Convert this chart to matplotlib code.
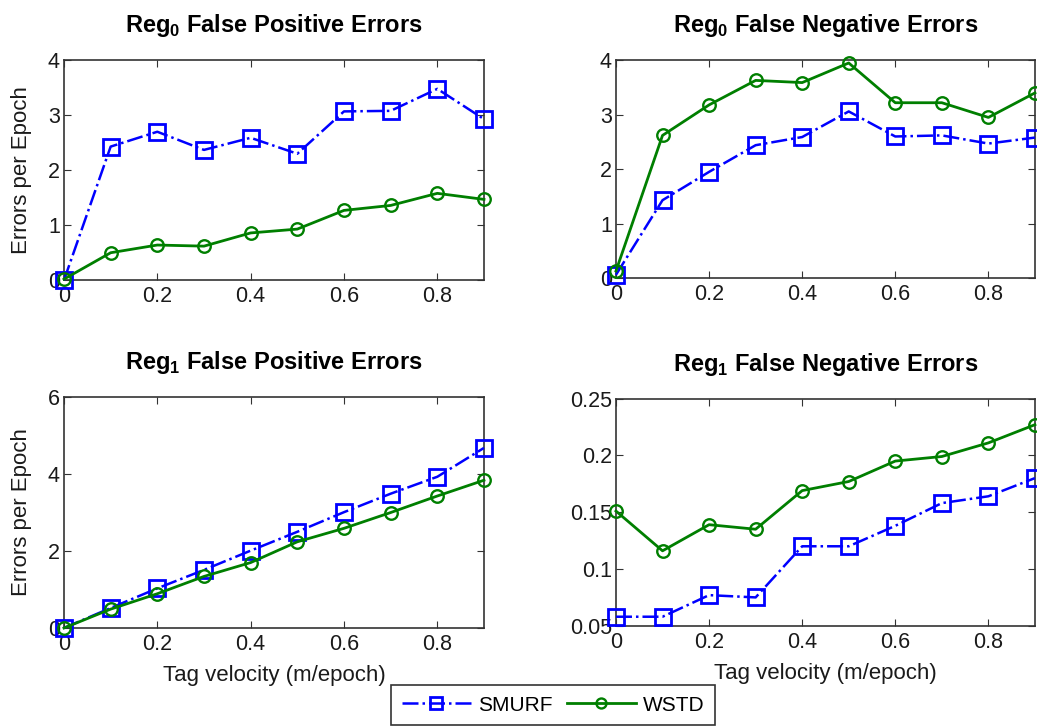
import numpy as np
import matplotlib
matplotlib.use('Agg')
import matplotlib.pyplot as plt

plt.rcParams['font.family'] = ['Liberation Sans', 'DejaVu Sans']
plt.rcParams['mathtext.fontset'] = 'custom'
plt.rcParams['mathtext.rm'] = 'Liberation Sans'
plt.rcParams['mathtext.bf'] = 'Liberation Sans:bold'

# tag velocity (m/epoch)
velocity = [0.0, 0.1, 0.2, 0.3, 0.4, 0.5, 0.6, 0.7, 0.8, 0.9]

# Reg0 false positive errors
reg0_fp_smurf = [0.0, 2.43, 2.70, 2.37, 2.59, 2.30, 3.07, 3.08, 3.48, 2.93]
reg0_fp_wstd = [0.02, 0.50, 0.64, 0.62, 0.86, 0.93, 1.27, 1.36, 1.58, 1.47]

# Reg0 false negative errors
reg0_fn_smurf = [0.06, 1.43, 1.95, 2.44, 2.59, 3.06, 2.60, 2.62, 2.47, 2.58]
reg0_fn_wstd = [0.13, 2.62, 3.18, 3.63, 3.59, 3.95, 3.22, 3.22, 2.95, 3.40]

# Reg1 false positive errors
reg1_fp_smurf = [0.0, 0.52, 1.03, 1.51, 2.01, 2.50, 3.01, 3.49, 3.93, 4.68]
reg1_fp_wstd = [0.0, 0.49, 0.89, 1.34, 1.70, 2.24, 2.59, 3.00, 3.43, 3.84]

# Reg1 false negative errors
reg1_fn_smurf = [0.058, 0.058, 0.077, 0.075, 0.120, 0.120, 0.138, 0.158, 0.164, 0.180]
reg1_fn_wstd = [0.151, 0.116, 0.139, 0.135, 0.169, 0.177, 0.195, 0.199, 0.211, 0.227]

blue = '#0000ff'
green = '#007f00'


def panel(ax, smurf, wstd, title, yticks, ylim, ylabel=None, xlabel=None):
    '''
    Draws one panel with both methods
    '''
    ax.plot(velocity, smurf, color=blue, linestyle='-.', linewidth=1.8,
            marker='s', markersize=11, markerfacecolor='none',
            markeredgewidth=2.0, label='SMURF', clip_on=False, zorder=3)
    ax.plot(velocity, wstd, color=green, linestyle='-', linewidth=2.0,
            marker='o', markersize=9, markerfacecolor='none',
            markeredgewidth=1.7, label='WSTD', clip_on=False, zorder=4)
    ax.set_xlim(0, 0.9)
    ax.set_ylim(*ylim)
    ax.set_xticks([0, 0.2, 0.4, 0.6, 0.8])
    ax.set_xticklabels(['0', '0.2', '0.4', '0.6', '0.8'])
    ax.set_yticks(yticks)
    ax.set_yticklabels(['%g' % t for t in yticks])
    ax.tick_params(direction='in', top=True, right=True, length=5,
                   labelsize=15.5, color='#333333', labelcolor='#1a1a1a')
    ax.tick_params(axis='x', pad=4.5)
    ax.tick_params(axis='y', pad=3)
    for s in ax.spines.values():
        s.set_linewidth(1.2)
        s.set_color('#333333')
    ax.set_title(title, fontsize=17, fontweight='bold', pad=20)
    if ylabel:
        ax.set_ylabel(ylabel, fontsize=16, labelpad=11, color='#1a1a1a')
    if xlabel:
        ax.set_xlabel(xlabel, fontsize=16, labelpad=7, color='#1a1a1a')


fig = plt.figure(figsize=(10.37, 7.26), dpi=100)
ax1 = fig.add_axes([0.0617, 0.614, 0.405, 0.303])
ax2 = fig.add_axes([0.594, 0.617, 0.404, 0.300])
ax3 = fig.add_axes([0.0617, 0.135, 0.405, 0.318])
ax4 = fig.add_axes([0.594, 0.138, 0.404, 0.313])

panel(ax1, reg0_fp_smurf, reg0_fp_wstd, r'Reg$_\mathbf{0}$ False Positive Errors',
      [0, 1, 2, 3, 4], (0, 4), ylabel='Errors per Epoch')
panel(ax2, reg0_fn_smurf, reg0_fn_wstd, r'Reg$_\mathbf{0}$ False Negative Errors',
      [0, 1, 2, 3, 4], (0, 4))
panel(ax3, reg1_fp_smurf, reg1_fp_wstd, r'Reg$_\mathbf{1}$ False Positive Errors',
      [0, 2, 4, 6], (0, 6), ylabel='Errors per Epoch',
      xlabel='Tag velocity (m/epoch)')
panel(ax4, reg1_fn_smurf, reg1_fn_wstd, r'Reg$_\mathbf{1}$ False Negative Errors',
      [0.05, 0.1, 0.15, 0.2, 0.25], (0.05, 0.25),
      xlabel='Tag velocity (m/epoch)')

handles, labels = ax1.get_legend_handles_labels()
leg = fig.legend(handles, labels, loc='upper center', ncol=2,
                 bbox_to_anchor=(0.5335, 0.056), fontsize=15, frameon=True,
                 fancybox=False, edgecolor='black', handlelength=3.3,
                 handletextpad=0.35, columnspacing=0.7, borderpad=0.5,
                 borderaxespad=0, markerscale=0.8)
leg.get_frame().set_linewidth(1.2)

fig.savefig('out.png', dpi=100)
